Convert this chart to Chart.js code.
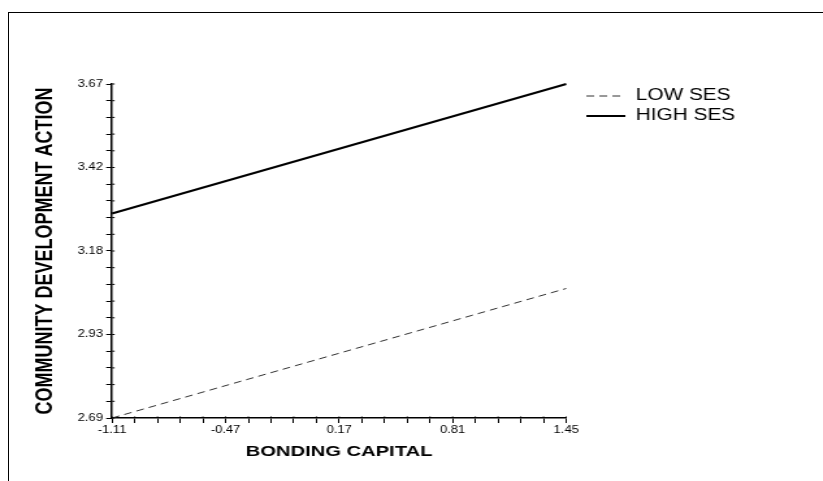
<!DOCTYPE html>
<html>
<head>
<meta charset="utf-8">
<script src="https://cdn.jsdelivr.net/npm/chart.js@4/dist/chart.umd.min.js"></script>
<style>
  html, body { margin: 0; padding: 0; background: #fff; width: 823px; height: 481px; overflow: hidden; }
  #frame { position: absolute; left: 8px; top: 12px; width: 815px; height: 469px;
           border-left: 1px solid #000; border-top: 1px solid #000; box-sizing: border-box; }
  /* the plot is drawn narrow and widened, giving the broad lettering of the print */
  #wrap { position: absolute; left: 0; top: 0; width: 633px; height: 481px;
          transform: scaleX(1.3); transform-origin: 0 0; }
</style>
</head>
<body>
<div id="frame"></div>
<div id="wrap"><canvas id="c" width="633" height="481"></canvas></div>
<script>
// Simple slopes of community development action on bonding capital
const bondingCapital = [-1.11, 1.45];
const lowSES  = [2.69, 3.07];
const highSES = [3.29, 3.67];

const xTickLabels = ['-1.11', '-0.47', '0.17', '0.81', '1.45'];
const yTickLabels = ['2.69', '2.93', '3.18', '3.42', '3.67'];
const xRange = [-1.11, 1.45];
const yRange = [2.69, 3.67];
const MINOR_PER_MAJOR = 5;   // tick intervals between labelled ticks

const FONT = "'Liberation Sans', Arial, Helvetica, sans-serif";
Chart.defaults.font.family = FONT;
Chart.defaults.color = '#000';

// evenly spaced major + minor ticks between the axis ends
function tickSet(range, labels) {
  const n = (labels.length - 1) * MINOR_PER_MAJOR;
  const out = [];
  for (let k = 0; k <= n; k++) out.push({ value: range[0] + (range[1] - range[0]) * k / n });
  return out;
}
function tickLabel(labels) {
  return (v, i) => (i % MINOR_PER_MAJOR === 0 ? labels[i / MINOR_PER_MAJOR] : '');
}

// legend entries show each series' own line style
function lineLegendLabels(chart) {
  const items = Chart.defaults.plugins.legend.labels.generateLabels(chart);
  items.forEach(it => {
    const ds = chart.data.datasets[it.datasetIndex];
    it.lineDash = ds.borderDash || [];
    it.lineWidth = ds.borderWidth;
    it.strokeStyle = ds.borderColor;
  });
  return items;
}

// keep the legend a little to the right of the plot
const legendBeside = {
  id: 'legendBeside',
  afterLayout(chart) {
    const lg = chart.legend;
    const w = lg.width;
    lg.left = chart.chartArea.right + 11.5;
    lg.right = lg.left + w;
  }
};

// short marks on the inner side of the axes at every tick
const tickStubs = {
  id: 'tickStubs',
  afterDraw(chart) {
    const { ctx, scales: { x, y } } = chart;
    ctx.save();
    ctx.strokeStyle = '#000';
    ctx.lineWidth = 1;
    ctx.beginPath();
    y.ticks.forEach((t, i) => {
      const py = y.getPixelForTick(i);
      ctx.moveTo(y.right, py); ctx.lineTo(y.right + 2, py);
    });
    x.ticks.forEach((t, i) => {
      const px = x.getPixelForTick(i);
      ctx.moveTo(px, x.top); ctx.lineTo(px, x.top - 1.5);
    });
    ctx.stroke();
    ctx.restore();
  }
};

const points = ys => bondingCapital.map((x, i) => ({ x, y: ys[i] }));

new Chart(document.getElementById('c'), {
  type: 'line',
  data: {
    datasets: [
      { label: 'LOW SES', data: points(lowSES), borderColor: '#333', borderWidth: 1,
        borderDash: [6, 4], pointRadius: 0, fill: false, tension: 0, clip: false },
      { label: 'HIGH SES', data: points(highSES), borderColor: '#000', borderWidth: 2,
        pointRadius: 0, fill: false, tension: 0, clip: false }
    ]
  },
  options: {
    responsive: false,
    animation: false,
    devicePixelRatio: 1,
    layout: { padding: { top: 84, left: 0, bottom: 19.7, right: 69 } },
    plugins: {
      legend: {
        position: 'right',
        align: 'start',
        labels: {
          usePointStyle: true, pointStyle: 'line', pointStyleWidth: 30,
          padding: 4, color: '#000', font: { size: 16, family: FONT },
          generateLabels: lineLegendLabels
        }
      },
      tooltip: { enabled: false }
    },
    scales: {
      x: {
        type: 'linear', min: xRange[0], max: xRange[1],
        afterBuildTicks: s => { s.ticks = tickSet(xRange, xTickLabels); },
        afterFit: s => { s.height = 43.3; },
        grid: { drawOnChartArea: false, drawTicks: true, tickLength: 5, tickColor: '#000', tickWidth: 1 },
        border: { color: '#000', width: 1.5 },
        ticks: { autoSkip: false, maxRotation: 0, padding: 1, color: '#000',
                 font: { size: 10, family: FONT }, callback: tickLabel(xTickLabels) },
        title: { display: true, text: 'BONDING CAPITAL', color: '#000',
                 font: { size: 15.5, weight: 'bold', family: FONT }, padding: { top: 4, bottom: 0 } }
      },
      y: {
        type: 'linear', min: yRange[0], max: yRange[1],
        afterBuildTicks: s => { s.ticks = tickSet(yRange, yTickLabels); },
        afterFit: s => { s.width = 86.2; },
        grid: { drawOnChartArea: false, drawTicks: true, tickLength: 4.5, tickColor: '#000', tickWidth: 1 },
        border: { color: '#000', width: 1.5 },
        ticks: { autoSkip: false, padding: 2.5, color: '#000',
                 font: { size: 10, family: FONT }, callback: tickLabel(yTickLabels) },
        title: { display: true, text: 'COMMUNITY DEVELOPMENT ACTION', color: '#000',
                 font: { size: 18, weight: 'bold', family: FONT }, padding: { top: 24.5, bottom: 0 } }
      }
    }
  },
  plugins: [legendBeside, tickStubs]
});
</script>
</body>
</html>
